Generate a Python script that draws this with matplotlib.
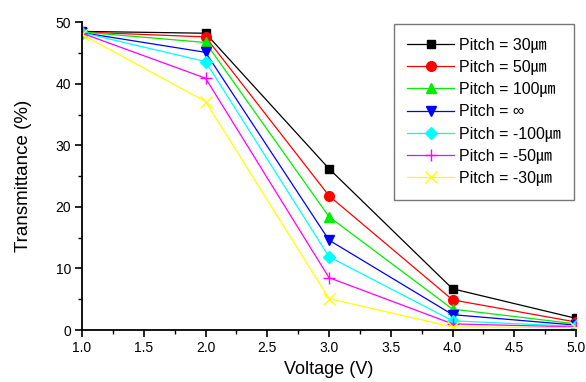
import matplotlib
matplotlib.use("Agg")
import matplotlib.pyplot as plt
from matplotlib.ticker import MultipleLocator

plt.rcParams['font.family'] = ['Liberation Sans', 'Noto Sans CJK KR', 'DejaVu Sans']

voltage = [1.0, 2.0, 3.0, 4.0, 5.0]

pitch_30 = [48.5, 48.2, 26.2, 6.7, 1.9]
pitch_50 = [48.4, 47.6, 21.8, 4.9, 1.3]
pitch_100 = [48.4, 46.7, 18.4, 3.4, 1.0]
pitch_inf = [48.3, 45.1, 14.6, 2.5, 0.8]
pitch_m100 = [48.3, 43.6, 11.9, 1.5, 0.6]
pitch_m50 = [48.2, 40.9, 8.5, 1.0, 0.5]
pitch_m30 = [48.0, 37.1, 5.1, 0.5, 0.4]

labels = ["Pitch = 30\u339b", "Pitch = 50\u339b", "Pitch = 100\u339b",
          "Pitch = \u221e", "Pitch = -100\u339b", "Pitch = -50\u339b",
          "Pitch = -30\u339b"]

series = [pitch_30, pitch_50, pitch_100, pitch_inf, pitch_m100, pitch_m50, pitch_m30]
colors = ["black", "red", "#00ee00", "blue", "cyan", "magenta", "yellow"]
markers = ["s", "o", "^", "v", "D", "+", "x"]
sizes = [6, 7, 7, 7, 6, 8, 8]

fig = plt.figure(figsize=(5.86, 3.82), dpi=100)
ax = fig.add_axes([0.140, 0.136, 0.843, 0.806])

for ys, c, m, s, lab in zip(series, colors, markers, sizes, labels):
    ax.plot(voltage, ys, color=c, marker=m, markersize=s, linewidth=0.9,
            markeredgewidth=1.0, label=lab)

ax.set_xlim(1.0, 5.0)
ax.set_ylim(0, 50)
ax.xaxis.set_major_locator(MultipleLocator(0.5))
ax.xaxis.set_minor_locator(MultipleLocator(0.25))
ax.yaxis.set_major_locator(MultipleLocator(10))
ax.yaxis.set_minor_locator(MultipleLocator(5))
ax.spines['top'].set_visible(False)
ax.spines['right'].set_visible(False)
ax.spines['left'].set_linewidth(1.3)
ax.spines['bottom'].set_linewidth(1.3)
ax.tick_params(which='major', direction='out', length=5, width=1.2, labelsize=10, pad=3)
ax.tick_params(which='minor', direction='out', length=3, width=1.0)
for sp in ['left', 'bottom']:
    ax.spines[sp].set_clip_on(False)

ax.set_xlabel("Voltage (V)", fontsize=13, labelpad=4)
ax.set_ylabel("Transmittance (%)", fontsize=13.5, labelpad=17)

leg = ax.legend(loc='upper right', bbox_to_anchor=(0.996, 0.994), borderaxespad=0,
                fontsize=11.5, frameon=True, fancybox=False, edgecolor='#555555',
                handlelength=2.9, handletextpad=0.3, labelspacing=0.45,
                borderpad=0.85)
leg.get_frame().set_linewidth(1.0)

fig.savefig("out.png", dpi=100)
